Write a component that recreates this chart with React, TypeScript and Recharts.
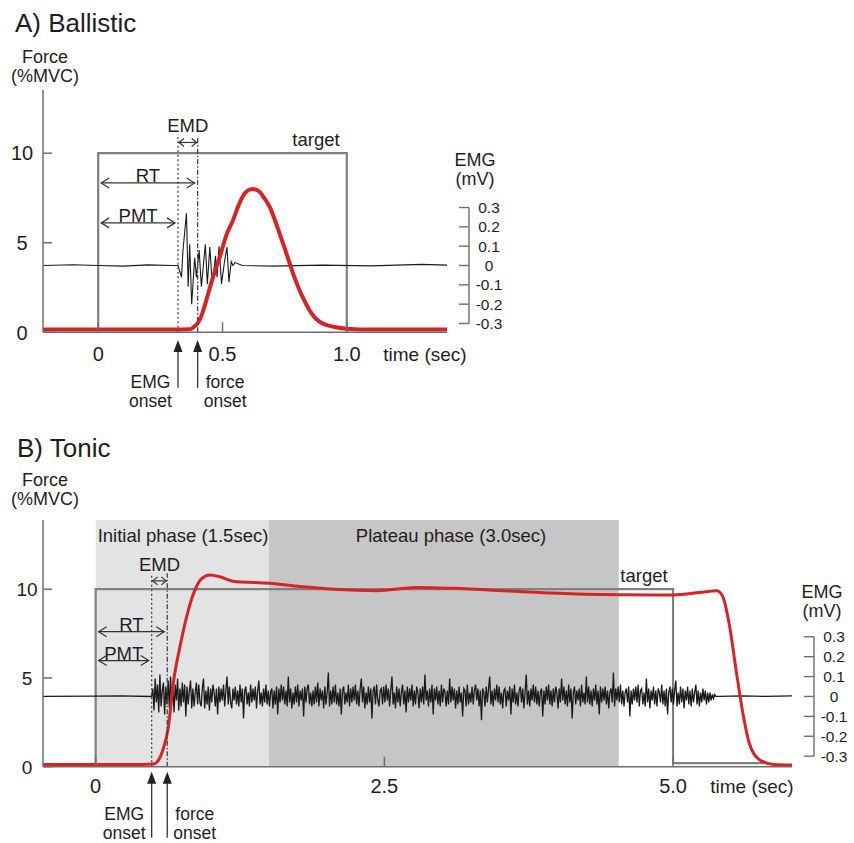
import React from "react";
import {
  ComposedChart,
  Line,
  XAxis,
  YAxis,
  ReferenceLine,
  ReferenceArea,
} from "recharts";

const FONT = '"Liberation Sans", Arial, Helvetica, sans-serif';
const INK = "#1e1e1e";
const AXIS = "#6e6e6e";
const TARGET = "#808080";
const RED = "#d62328";
const MARK = "#333";

// ---------- A) Ballistic ----------
const xDomainA = [-0.222, 1.403];
const forceDomainA = [0, 13.53];
const emgDomainA = [-0.3456, 0.908];
const xTicksA = [0, 0.5, 1.0];
const xTickLabelsA = ["0", "0.5", "1.0"];

const forceTimeA = [
  -0.222, -0.1, 0, 0.1, 0.2, 0.3, 0.37, 0.385, 0.4, 0.42, 0.435, 0.46, 0.489,
  0.515, 0.542, 0.565, 0.582, 0.6, 0.622, 0.645, 0.67, 0.69, 0.71, 0.73, 0.75,
  0.77, 0.79, 0.81, 0.83, 0.85, 0.87, 0.89, 0.92, 0.95, 1.0, 1.1, 1.2, 1.3,
  1.403,
];
const forceA = [
  0.15, 0.15, 0.15, 0.15, 0.15, 0.15, 0.17, 0.3, 0.5, 1.1, 1.8, 3.0, 4.2, 5.4,
  6.25, 7.1, 7.6, 7.9, 8.0, 7.9, 7.45, 7.0, 6.3, 5.5, 4.7, 3.85, 3.05, 2.35,
  1.75, 1.23, 0.85, 0.6, 0.4, 0.3, 0.2, 0.15, 0.15, 0.15, 0.15,
];

const emgTimeA = [
  -0.222, -0.1, 0, 0.1, 0.2, 0.3, 0.321, 0.335, 0.341, 0.355, 0.362, 0.368,
  0.376, 0.388, 0.395, 0.406, 0.415, 0.431, 0.439, 0.449, 0.459, 0.472, 0.478,
  0.486, 0.496, 0.508, 0.518, 0.526, 0.535, 0.542, 0.55, 0.58, 0.7, 0.9, 1.1,
  1.3, 1.403,
];
const emgA = [
  0, 0.004, 0, -0.003, 0.003, 0, 0, -0.06, 0.078, 0.27, -0.11, 0.11, -0.2,
  0.04, -0.06, 0.08, -0.11, 0.11, -0.095, 0.095, -0.095, 0.05, -0.06, 0.1,
  -0.095, 0.02, 0.095, -0.086, 0.02, 0, 0.015, 0, -0.003, 0.002, -0.002, 0.006,
  0.002,
];

const targetTimeA = [0, 0, 1.0, 1.0];
const targetA = [0, 10, 10, 0];
const emgOnsetA = 0.321;
const forceOnsetA = 0.4;

// ---------- B) Tonic ----------
const xDomainB = [-0.456, 6.03];
const forceDomainB = [0, 13.9];
const emgDomainB = [-0.353, 0.887];
const xTicksB = [0, 2.5, 5.0];
const xTickLabelsB = ["0", "2.5", "5.0"];

const forceTimeB = [
  -0.456, 0, 0.3, 0.5, 0.53, 0.58, 0.63, 0.672, 0.73, 0.788, 0.86, 0.918, 0.99,
  1.076, 1.19, 1.51, 1.77, 2.06, 2.43, 2.78, 3.1, 3.67, 4.25, 4.83, 5.0, 5.23,
  5.38, 5.43, 5.49, 5.55, 5.61, 5.66, 5.75, 5.87, 6.03,
];
const forceB = [
  0.12, 0.12, 0.12, 0.15, 0.25, 0.9, 2.25, 4.7, 6.76, 8.46, 9.96, 10.6, 10.8,
  10.7, 10.45, 10.33, 10.15, 10.0, 9.92, 10.1, 10.05, 9.87, 9.72, 9.68, 9.68,
  9.81, 9.92, 9.6, 7.9, 5.26, 2.82, 1.32, 0.38, 0.13, 0.1,
];

// EMG before / after the tonic burst (mV)
const emgRestTimeB = [-0.456, 0, 0.2, 0.485];
const emgRestB = [0, 0.002, 0.003, 0];
const emgTailTimeB = [5.4, 5.6, 5.8, 6.03];
const emgTailB = [0, 0.003, 0, 0.003];
// burst samples, 0.01 mV units, one every 0.0102 s from 0.485 s
const emgBurstStartB = 0.485;
const emgBurstStepB = 0.0102;
const emgBurstB = [
  4, -7, 9, -3, 6, -8, 11, -5, 3, 7, -9, 5, -4, 8, -6, 10, -3, 5, -8, 6, -2, 9, -7, 4,
  -5, 7, -3, 6, -10, 5, -4, 3, 8, -6, 4, -5, 2, 7, -4, 6, -3, -5, 4, 9, -6, 3, -4, 5,
  -7, 4, -3, 6, 2, -5, 4, -9, 5, -3, 4, -2, 6, -5, 3, 10, -4, 5, -3, -6, 4, -2, 5, -4,
  3, -5, 6, -3, 4, -11, 3, 5, -4, 2, -5, 6, -3, 4, -2, 5, -6, 3, 8, -4, 2, -5, 4, -3,
  6, -4, 3, -5, 2, 4, -6, 3, -4, 5, -9, 4, -3, 6, -2, 5, -4, 3, -5, 10, -3, 4, -6, 2,
  -4, 5, -3, 6, -5, 3, -2, 4, -10, 5, -3, 4, 6, -4, 2, -5, 3, -4, 5, -3, 7, -5, 4, -2,
  3, -6, 5, -4, 2, 12, -5, 3, -4, 5, -3, 6, -4, 2, -5, 4, -9, 3, 5, -4, 2, -3, 6, -5,
  4, -3, 5, -2, 6, -4, 3, -5, 4, 9, -3, 5, -6, 2, -4, 5, -3, 4, -11, 3, 5, -4, 6, -2,
  -5, 3, 4, -4, 5, -3, 6, -2, 4, -5, 3, 10, -4, 2, -6, 5, -3, 4, -5, 2, 6, -4, 3, -8,
  5, -3, 4, -2, 6, -5, 3, -4, 5, 2, -6, 4, -3, 5, -4, 11, -2, 3, -5, 4, -3, 6, -9, 4,
  -2, 5, -4, 3, -5, 6, -3, 4, 2, -5, 3, -4, 9, -3, 5, -2, 4, -6, 3, -4, 5, -3, 2, -10,
  4, 3, -5, 6, -4, 2, -3, 5, -4, 3, 6, -2, 4, -5, 3, -12, 4, 2, -5, 5, -3, 4, 10, -4,
  3, -5, 4, -2, 6, -3, 5, -4, 2, -6, 3, 4, -5, 3, -2, 5, -9, 4, -3, 6, -4, 2, -5, 3,
  5, -3, 4, -6, 2, 11, -4, 3, -5, 4, -2, 6, -3, 5, -4, 3, -5, 2, 4, -10, 3, -4, 5, -2,
  6, -4, 3, -5, 4, -3, 5, 2, -6, 4, -3, 9, -2, 5, -4, 3, -5, 6, -3, 4, -11, 2, 5, -4,
  3, -2, 4, -5, 6, -3, 2, -4, 10, -3, 5, -4, 3, -5, 4, -2, 6, -4, 3, -9, 5, -3, 4, -2,
  5, -4, 3, -6, 2, 4, -3, 12, -5, 4, -2, 5, -3, 6, -4, 3, -5, 2, 4, -3, 5, -10, 3, -4,
  4, -2, 5, -3, 6, -5, 3, 4, -4, 2, -5, 9, -3, 4, -6, 3, -2, 5, -4, 3, -5, 4, 2, -3,
  6, -4, 3, -5, 4, -9, 2, 5, -3, 4, -4, 3, 8, -5, 2, -4, 5, -3, 4, -6, 3, -2, 5, -4,
  3, -5, 4, -3, 2, 6, -4, 3, -5, 2, -3, 4, -2, 3, -4, 2, -3, 2, -2, 1, -1, 1, 0, 0,
];

const targetTimeB = [0, 0, 5.0, 5.0, 5.8];
const targetB = [0, 10, 10, 0.2, 0.2];
const emgOnsetB = 0.485;
const forceOnsetB = 0.62;

const forceTicks = [0, 5, 10];
const emgTicks = [-0.3, -0.2, -0.1, 0, 0.1, 0.2, 0.3];

const zip = (ts: number[], vs: number[]) => ts.map((t, i) => ({ t, v: vs[i] }));

const forceDataA = zip(forceTimeA, forceA);
const emgDataA = zip(emgTimeA, emgA);
const targetDataA = zip(targetTimeA, targetA);

const forceDataB = zip(forceTimeB, forceB);
const emgDataB = [
  ...zip(emgRestTimeB, emgRestB),
  ...emgBurstB.map((v, i) => ({
    t: emgBurstStartB + (i + 1) * emgBurstStepB,
    v: v / 100,
  })),
  ...zip(emgTailTimeB, emgTailB),
];
const targetDataB = zip(targetTimeB, targetB);

// ---------- ticks and annotation shapes ----------
const ForceTick = (props: any) => {
  const { x, y, payload, labelDx, fontSize } = props;
  return (
    <g>
      <line x1={x} y1={y} x2={x + 9} y2={y} stroke={AXIS} strokeWidth={1.5} />
      <text
        x={x - labelDx}
        y={y}
        dy="0.36em"
        textAnchor="middle"
        fontSize={fontSize}
        fill={INK}
      >
        {payload.value}
      </text>
    </g>
  );
};

const TimeTick = (props: any) => {
  const { x, y, payload, ticks, labels, dy } = props;
  const i = ticks.indexOf(payload.value);
  return (
    <g>
      <line x1={x} y1={y} x2={x} y2={y - 10} stroke={AXIS} strokeWidth={1.5} />
      <text x={x} y={y + dy} textAnchor="middle" fontSize={20} fill={INK}>
        {labels[i]}
      </text>
    </g>
  );
};

const EMG_OFFSET = 22;

const EmgTick = (props: any) => {
  const { x, y, payload } = props;
  const ax = x + EMG_OFFSET;
  return (
    <g>
      <line x1={ax - 10} y1={y} x2={ax} y2={y} stroke={AXIS} strokeWidth={1.4} />
      <text
        x={ax + 20}
        y={y}
        dy="0.36em"
        textAnchor="middle"
        fontSize={15.5}
        fill={INK}
      >
        {String(payload.value)}
      </text>
    </g>
  );
};

const EmgBracket = (props: any) => {
  const { x1, y1, x2, y2 } = props;
  return (
    <line
      x1={x1 + EMG_OFFSET}
      y1={y1}
      x2={x2 + EMG_OFFSET}
      y2={y2}
      stroke={AXIS}
      strokeWidth={1.4}
    />
  );
};

const DoubleArrow = (props: any) => {
  const { x1, x2, y1, label, inset = 3, head = 8, spread = 5, textGap = 1 } =
    props;
  const a = x1 + inset;
  const b = x2 - inset;
  return (
    <g>
      <g stroke={MARK} strokeWidth={1.2} fill="none">
        <line x1={a} y1={y1} x2={b} y2={y1} />
        <polyline points={`${a + head},${y1 - spread} ${a},${y1} ${a + head},${y1 + spread}`} />
        <polyline points={`${b - head},${y1 - spread} ${b},${y1} ${b - head},${y1 + spread}`} />
      </g>
      <text
        x={(a + b) / 2}
        y={y1 - textGap}
        textAnchor="middle"
        fontSize={18.5}
        fill={INK}
      >
        {label}
      </text>
    </g>
  );
};

const OnsetArrow = (props: any) => {
  const { x1, y1, y2, lines, side } = props;
  const tx = x1 + side * 27.5;
  return (
    <g>
      <line x1={x1} y1={y1 + 8} x2={x1} y2={y2} stroke={MARK} strokeWidth={1.3} />
      <path
        d={`M${x1},${y1} L${x1 - 4.5},${y1 + 12} L${x1 + 4.5},${y1 + 12} Z`}
        fill="#222"
      />
      <text x={tx} y={y1 + 48} textAnchor="middle" fontSize={17.5} fill={INK}>
        {lines[0]}
      </text>
      <text x={tx} y={y1 + 67} textAnchor="middle" fontSize={17.5} fill={INK}>
        {lines[1]}
      </text>
    </g>
  );
};

function annotations(
  emgOnset: number,
  forceOnset: number,
  lineTop: number,
  emdY: number,
  rtY: number,
  pmtY: number,
  arrowTop: number,
  arrowBottom: number
) {
  return [
    <ReferenceLine
      key="d1"
      yAxisId="force"
      segment={[{ x: emgOnset, y: 0 }, { x: emgOnset, y: lineTop }]}
      stroke="#444"
      strokeWidth={1.3}
      strokeDasharray="2 2.5"
      ifOverflow="visible"
    />,
    <ReferenceLine
      key="d2"
      yAxisId="force"
      segment={[{ x: forceOnset, y: 0 }, { x: forceOnset, y: lineTop }]}
      stroke="#444"
      strokeWidth={1.3}
      strokeDasharray="5 2 1.5 2"
      ifOverflow="visible"
    />,
    <ReferenceLine
      key="emd"
      yAxisId="force"
      segment={[{ x: emgOnset, y: emdY }, { x: forceOnset, y: emdY }]}
      ifOverflow="visible"
      shape={(p: any) => (
        <DoubleArrow {...p} label="EMD" inset={1} head={5} spread={4} textGap={10} />
      )}
    />,
    <ReferenceLine
      key="rt"
      yAxisId="force"
      segment={[{ x: 0, y: rtY }, { x: forceOnset, y: rtY }]}
      ifOverflow="visible"
      shape={(p: any) => <DoubleArrow {...p} label="RT" />}
    />,
    <ReferenceLine
      key="pmt"
      yAxisId="force"
      segment={[{ x: 0, y: pmtY }, { x: emgOnset, y: pmtY }]}
      ifOverflow="visible"
      shape={(p: any) => <DoubleArrow {...p} label="PMT" />}
    />,
    <ReferenceLine
      key="a1"
      yAxisId="force"
      segment={[{ x: emgOnset, y: arrowTop }, { x: emgOnset, y: arrowBottom }]}
      ifOverflow="visible"
      shape={(p: any) => <OnsetArrow {...p} lines={["EMG", "onset"]} side={-1} />}
    />,
    <ReferenceLine
      key="a2"
      yAxisId="force"
      segment={[{ x: forceOnset, y: arrowTop }, { x: forceOnset, y: arrowBottom }]}
      ifOverflow="visible"
      shape={(p: any) => <OnsetArrow {...p} lines={["force", "onset"]} side={1} />}
    />,
  ];
}

function Txt(props: any) {
  const { x, y, size = 18.5, anchor = "middle", children } = props;
  return (
    <text x={x} y={y} fontSize={size} textAnchor={anchor} fill={INK}>
      {children}
    </text>
  );
}

export default function App() {
  return (
    <div
      style={{
        position: "absolute",
        left: 0,
        top: 0,
        width: 854,
        height: 843,
        background: "#fff",
        fontFamily: FONT,
      }}
    >
      <div style={{ position: "absolute", left: 0, top: 0 }}>
        <ComposedChart
          width={854}
          height={420}
          margin={{ top: 90, right: 347, bottom: 57.7, left: 0 }}
        >
          <XAxis
            type="number"
            dataKey="t"
            domain={xDomainA}
            allowDataOverflow
            ticks={xTicksA}
            interval={0}
            tickSize={0}
            tickMargin={0}
            tickLine={false}
            axisLine={{ stroke: AXIS, strokeWidth: 1.5 }}
            tick={<TimeTick ticks={xTicksA} labels={xTickLabelsA} dy={29} />}
            height={30}
          />
          <YAxis
            yAxisId="force"
            type="number"
            domain={forceDomainA}
            allowDataOverflow
            ticks={forceTicks}
            interval={0}
            tickSize={0}
            tickMargin={0}
            tickLine={false}
            axisLine={{ stroke: AXIS, strokeWidth: 1.5 }}
            tick={<ForceTick labelDx={21} fontSize={20} />}
            width={43}
          />
          <YAxis
            yAxisId="emg"
            orientation="right"
            type="number"
            domain={emgDomainA}
            allowDataOverflow
            ticks={emgTicks}
            interval={0}
            tickSize={0}
            tickMargin={0}
            tickLine={false}
            axisLine={false}
            tick={<EmgTick />}
            width={60}
          />
          <ReferenceLine
            yAxisId="emg"
            segment={[{ x: xDomainA[1], y: -0.3 }, { x: xDomainA[1], y: 0.3 }]}
            ifOverflow="visible"
            shape={(p: any) => <EmgBracket {...p} />}
          />
          <Line
            yAxisId="force"
            data={targetDataA}
            dataKey="v"
            type="linear"
            stroke={TARGET}
            strokeWidth={2.2}
            dot={false}
            isAnimationActive={false}
          />
          <Line
            yAxisId="emg"
            data={emgDataA}
            dataKey="v"
            type="linear"
            stroke="#1a1a1a"
            strokeWidth={1.1}
            dot={false}
            isAnimationActive={false}
          />
          <Line
            yAxisId="force"
            data={forceDataA}
            dataKey="v"
            type="monotone"
            stroke={RED}
            strokeWidth={4}
            dot={false}
            isAnimationActive={false}
          />
          {annotations(emgOnsetA, forceOnsetA, 10.9, 10.6, 8.34, 6.11, -0.43, -3.1)}
        </ComposedChart>
      </div>

      <div style={{ position: "absolute", left: 0, top: 420 }}>
        <ComposedChart
          width={854}
          height={423}
          margin={{ top: 100, right: 2, bottom: 46.3, left: 0 }}
        >
          <XAxis
            type="number"
            dataKey="t"
            domain={xDomainB}
            allowDataOverflow
            ticks={xTicksB}
            interval={0}
            tickSize={0}
            tickMargin={0}
            tickLine={false}
            axisLine={{ stroke: AXIS, strokeWidth: 1.5 }}
            tick={<TimeTick ticks={xTicksB} labels={xTickLabelsB} dy={26.5} />}
            height={30}
          />
          <YAxis
            yAxisId="force"
            type="number"
            domain={forceDomainB}
            allowDataOverflow
            ticks={forceTicks}
            interval={0}
            tickSize={0}
            tickMargin={0}
            tickLine={false}
            axisLine={{ stroke: AXIS, strokeWidth: 1.5 }}
            tick={<ForceTick labelDx={16} fontSize={19} />}
            width={43}
          />
          <YAxis
            yAxisId="emg"
            orientation="right"
            type="number"
            domain={emgDomainB}
            allowDataOverflow
            ticks={emgTicks}
            interval={0}
            tickSize={0}
            tickMargin={0}
            tickLine={false}
            axisLine={false}
            tick={<EmgTick />}
            width={60}
          />
          <ReferenceArea
            yAxisId="force"
            x1={0}
            x2={1.5}
            y1={0}
            y2={forceDomainB[1]}
            fill="#e3e3e3"
            fillOpacity={1}
            stroke="none"
          />
          <ReferenceArea
            yAxisId="force"
            x1={1.5}
            x2={4.53}
            y1={0}
            y2={forceDomainB[1]}
            fill="#c6c6c6"
            fillOpacity={1}
            stroke="none"
          />
          <ReferenceLine
            yAxisId="emg"
            segment={[{ x: xDomainB[1], y: -0.3 }, { x: xDomainB[1], y: 0.3 }]}
            ifOverflow="visible"
            shape={(p: any) => <EmgBracket {...p} />}
          />
          <Line
            yAxisId="force"
            data={targetDataB}
            dataKey="v"
            type="linear"
            stroke={TARGET}
            strokeWidth={2.2}
            dot={false}
            isAnimationActive={false}
          />
          <Line
            yAxisId="emg"
            data={emgDataB}
            dataKey="v"
            type="linear"
            stroke="#1a1a1a"
            strokeWidth={1.3}
            dot={false}
            isAnimationActive={false}
          />
          <Line
            yAxisId="force"
            data={forceDataB}
            dataKey="v"
            type="monotone"
            stroke={RED}
            strokeWidth={3}
            dot={false}
            isAnimationActive={false}
          />
          {annotations(emgOnsetB, forceOnsetB, 10.9, 10.47, 7.61, 5.98, -0.28, -4.0)}
        </ComposedChart>
      </div>

      <svg
        width={854}
        height={843}
        style={{ position: "absolute", left: 0, top: 0, pointerEvents: "none" }}
      >
        <Txt x={15} y={31.5} size={26} anchor="start">A) Ballistic</Txt>
        <Txt x={45} y={63} size={18}>Force</Txt>
        <Txt x={45} y={82} size={18}>(%MVC)</Txt>
        <Txt x={316} y={146}>target</Txt>
        <Txt x={475} y={166} size={18}>EMG</Txt>
        <Txt x={475} y={185} size={18}>(mV)</Txt>
        <Txt x={425} y={361} size={19}>time (sec)</Txt>

        <Txt x={17} y={456.5} size={26} anchor="start">B) Tonic</Txt>
        <Txt x={45} y={485.5} size={18}>Force</Txt>
        <Txt x={45} y={504.5} size={18}>(%MVC)</Txt>
        <Txt x={183} y={541.5}>Initial phase (1.5sec)</Txt>
        <Txt x={451} y={541.5}>Plateau phase (3.0sec)</Txt>
        <Txt x={644} y={582}>target</Txt>
        <Txt x={822} y={598} size={18}>EMG</Txt>
        <Txt x={822} y={617} size={18}>(mV)</Txt>
        <Txt x={752} y={793} size={19}>time (sec)</Txt>
      </svg>
    </div>
  );
}
